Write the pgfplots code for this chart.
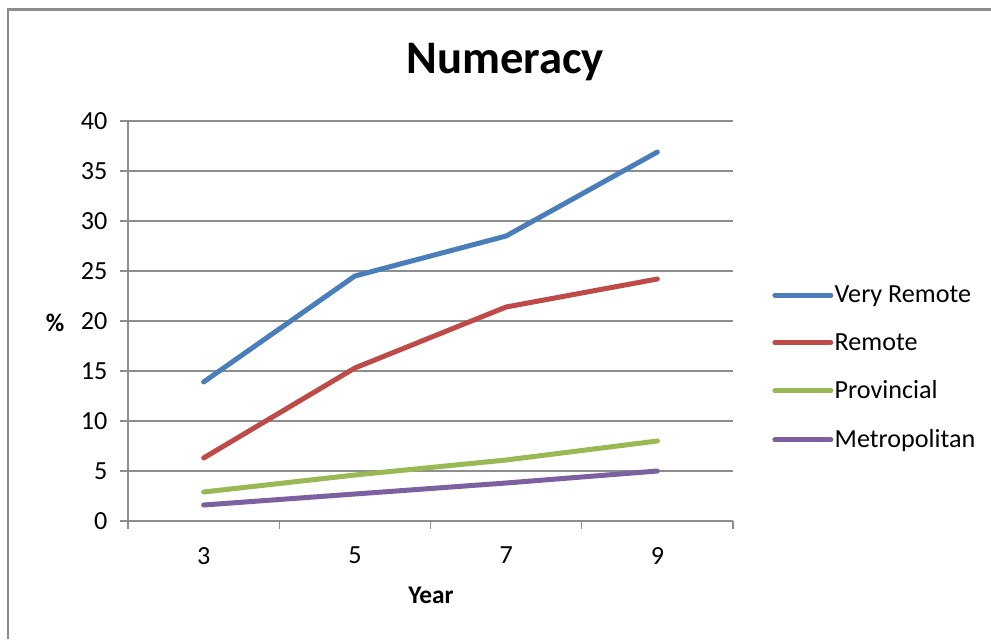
\documentclass[border=0pt]{standalone}
\usepackage{pgfplots}
\pgfplotsset{compat=1.18}
\usepackage{fontspec}
\setmainfont{Carlito}
\definecolor{vr}{HTML}{4A7EBB}
\definecolor{rm}{HTML}{BE4B48}
\definecolor{pv}{HTML}{98B954}
\definecolor{mt}{HTML}{7D60A0}
\definecolor{gridg}{HTML}{8E8E8E}
\definecolor{frameg}{HTML}{8C8C8C}
\def\u{0.75pt}
\begin{document}
\begin{tikzpicture}
\useasboundingbox (0,0) rectangle (991*\u,-639*\u);
\fill[white] (0,0) rectangle (991*\u,-639*\u);
\draw[frameg, line width=2pt] (8*\u,-639*\u) -- (8*\u,-9.5*\u) -- (991*\u,-9.5*\u);
\begin{axis}[
  at={(128*\u,-521*\u)}, anchor=south west,
  scale only axis, width=605*\u, height=400*\u,
  xmin=-0.5, xmax=3.5, ymin=0, ymax=40,
  axis lines*=left,
  axis line style={gridg, line width=1pt},
  ytick={0,5,...,40},
  xtick={0,1,2,3}, xticklabels={3,5,7,9},
  minor xtick={-0.5,0.5,1.5,2.5,3.5},
  ymajorgrids, major grid style={gridg, line width=1pt},
  tick align=outside, major tick length=6pt, minor tick length=6pt,
  major x tick style={draw=none},
  minor x tick style={gridg, line width=1pt},
  ytick style={gridg, line width=1pt},
  /pgf/number format/assume math mode=true,
  tick label style={font=\fontsize{19.6}{22}\selectfont, text=black},
  xticklabel style={yshift=-10pt},
  yticklabel style={xshift=-6pt},
  legend style={draw=none, fill=none, at={(1.058,0.383)}, anchor=west,
    font=\fontsize{19.6}{22}\selectfont, row sep=19.6pt,
    nodes={inner sep=1pt}},
  legend cell align=left,
  legend image code/.code={\draw[#1, line width=3.75pt, line cap=round] (0pt,0pt) -- (42pt,0pt);},
  every axis plot/.append style={line width=3.75pt, line cap=round, line join=round},
  clip=false,
]
\addplot[vr] coordinates {(0,13.9) (1,24.5) (2,28.5) (3,36.9)};
\addlegendentry{Very Remote}
\addplot[rm] coordinates {(0,6.3) (1,15.3) (2,21.4) (3,24.2)};
\addlegendentry{Remote}
\addplot[pv] coordinates {(0,2.9) (1,4.6) (2,6.1) (3,8.0)};
\addlegendentry{Provincial}
\addplot[mt] coordinates {(0,1.6) (1,2.7) (2,3.8) (3,5.0)};
\addlegendentry{Metropolitan}
\end{axis}
\node[font=\bfseries\fontsize{35}{40}\selectfont] at (505*\u,-62*\u) {Numeracy};
\node[font=\bfseries\fontsize{19}{22}\selectfont] at (431*\u,-595*\u) {Year};
\node[font=\bfseries\fontsize{19}{22}\selectfont] at (55*\u,-323*\u) {\%};
\end{tikzpicture}
\end{document}
